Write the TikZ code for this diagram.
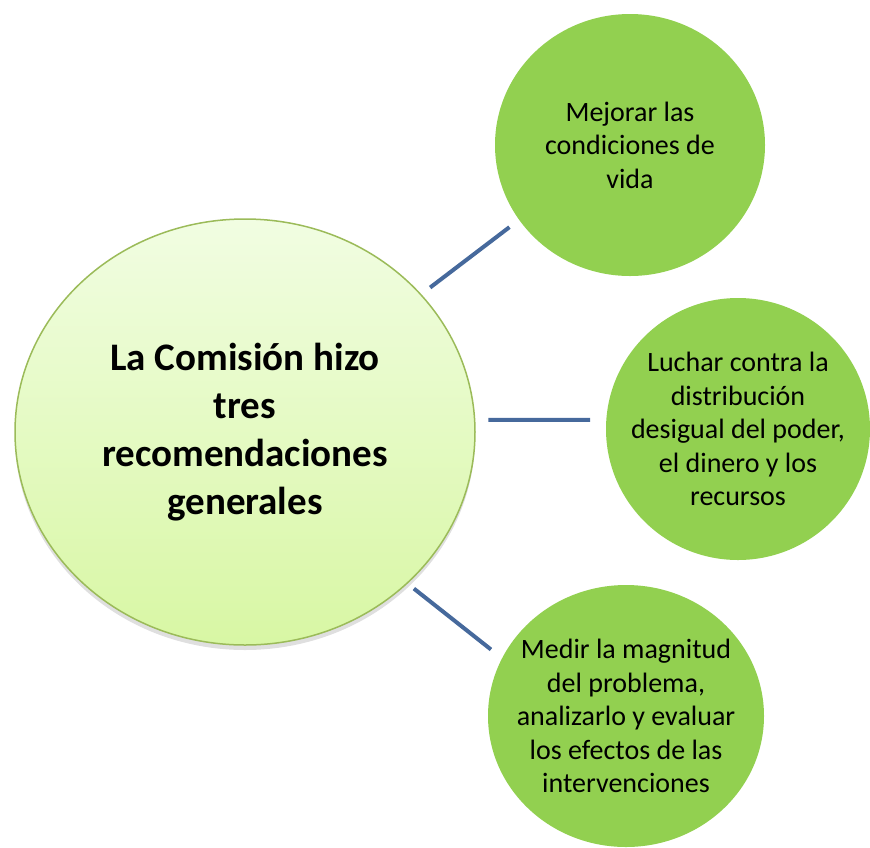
\documentclass[tikz,border=0pt]{standalone}
\usepackage{fontspec}
\setmainfont{Carlito}
\usetikzlibrary{shapes.geometric,shadows}
\definecolor{verdeborde}{HTML}{9BBB59}
\definecolor{verdeclaro}{HTML}{F1FDE2}
\definecolor{verdemedio}{HTML}{D8F7A4}
\definecolor{verdefuerte}{HTML}{92D050}
\definecolor{azullinea}{HTML}{46699C}

\begin{document}
\begin{tikzpicture}[x=1pt, y=-1pt,
    central/.style={ellipse, draw=verdeborde, line width=1.5pt,
        top color=verdeclaro, bottom color=verdemedio,
        drop shadow={opacity=0.25, shadow xshift=0pt, shadow yshift=-5pt},
        minimum width=460pt, minimum height=426pt, inner sep=0pt,
        align=center, font=\fontsize{39}{48}\selectfont\bfseries},
    rama/.style={ellipse, fill=verdefuerte, inner sep=0pt,
        minimum height=262pt},
    textorama/.style={align=center, inner sep=0pt,
        font=\fontsize{28}{33.5}\selectfont},
    enlace/.style={azullinea, line width=4pt}]
    % Marco
    \useasboundingbox (0,0) rectangle (870,847);

    % Circulo central
    \node[central] (comision) at (245,432)
        {La Comisión hizo\\tres\\recomendaciones\\generales};

    % Recomendaciones
    \node[rama, minimum width=270pt,
        label={[textorama]center:{Mejorar las\\condiciones de\\vida}}]
        (mejorar) at (630,145) {};
    \node[rama, minimum width=264pt,
        label={[textorama]center:{Luchar contra la\\distribución\\desigual del poder,\\el dinero y los\\recursos}}]
        (luchar) at (738,429) {};
    \node[rama, minimum width=276pt,
        label={[textorama]center:{Medir la magnitud\\del problema,\\analizarlo y evaluar\\los efectos de las\\intervenciones}}]
        (medir) at (626,716) {};

    % Conectores
    \draw[enlace, shorten <=11pt, shorten >=12pt] (comision.38) -- (mejorar.214);
    \draw[enlace, shorten <=13pt, shorten >=16pt] (comision.3) -- (luchar.176);
    \draw[enlace, shorten <=8pt, shorten >=14pt] (comision.-43) -- (medir.155);
\end{tikzpicture}
\end{document}
